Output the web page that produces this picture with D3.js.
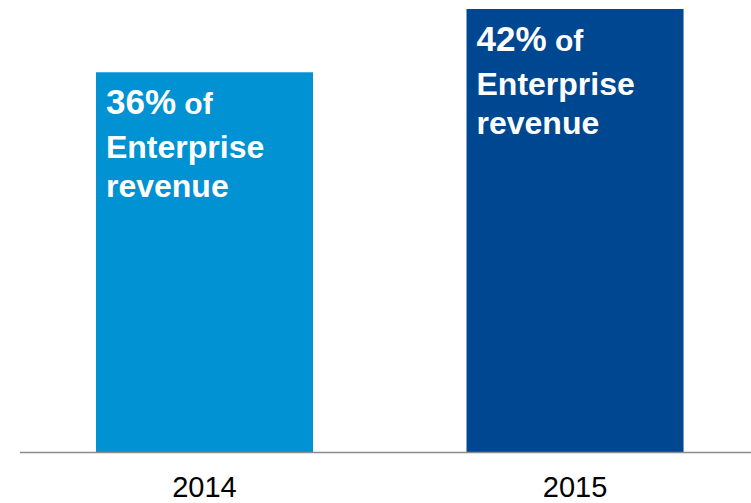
<!DOCTYPE html>
<html>
<head>
<meta charset="utf-8">
<script src="https://cdn.jsdelivr.net/npm/d3@7"></script>
<style>
  html, body { margin: 0; padding: 0; background: #ffffff; }
  svg { display: block; font-family: "Liberation Sans", Arial, sans-serif; }
</style>
</head>
<body>
<svg id="chart" width="751" height="503"></svg>
<script>
// Share of Enterprise revenue by year
const years = ["2014", "2015"];
const shares = [36, 42];
const barColors = ["#0092d3", "#004791"];
const labelWords = ["of", "Enterprise", "revenue"];

const svg = d3.select("#chart");
const W = 751;

const x = d3.scaleBand()
  .domain(years)
  .range([20, 759.5])
  .paddingInner(0.4143)
  .paddingOuter(0.205);

const y = d3.scaleLinear()
  .domain([0, 42])
  .range([452, 9]);

const data = years.map((yr, i) => ({ year: yr, value: shares[i], color: barColors[i] }));

// bars
svg.selectAll("rect.bar")
  .data(data)
  .join("rect")
  .attr("class", "bar")
  .attr("x", d => x(d.year))
  .attr("y", d => y(d.value))
  .attr("width", x.bandwidth())
  .attr("height", d => y(0) - y(d.value))
  .attr("fill", d => d.color);

// baseline
svg.append("line")
  .attr("x1", 20).attr("x2", W)
  .attr("y1", y(0) + 0.5).attr("y2", y(0) + 0.5)
  .attr("stroke", "#8c8c8c")
  .attr("stroke-width", 1.6);

// in-bar labels
const labels = svg.selectAll("text.inbar")
  .data(data)
  .join("text")
  .attr("class", "inbar")
  .attr("fill", "#ffffff")
  .attr("font-weight", "bold");

labels.each(function(d) {
  const t = d3.select(this);
  const x0 = x(d.year) + 10;
  const top = y(d.value);
  t.append("tspan")
    .attr("x", x0).attr("y", top + 42)
    .attr("font-size", 35)
    .text(d.value + "%");
  t.append("tspan")
    .attr("font-size", 30)
    .text(" " + labelWords[0]);
  t.append("tspan")
    .attr("x", x0).attr("y", top + 86)
    .attr("font-size", 32)
    .text(labelWords[1]);
  t.append("tspan")
    .attr("x", x0).attr("y", top + 125)
    .attr("font-size", 32)
    .text(labelWords[2]);
});

// category axis labels
svg.selectAll("text.year")
  .data(years)
  .join("text")
  .attr("class", "year")
  .attr("x", d => x(d) + x.bandwidth() / 2)
  .attr("y", 497)
  .attr("text-anchor", "middle")
  .attr("font-size", 29)
  .attr("fill", "#000000")
  .text(d => d);
</script>
</body>
</html>
